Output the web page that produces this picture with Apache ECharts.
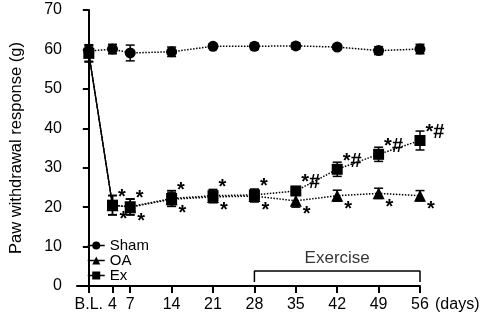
<!DOCTYPE html>
<html>
<head>
<meta charset="utf-8">
<script src="https://cdn.jsdelivr.net/npm/echarts@6/dist/echarts.min.js"></script>
<style>
  html, body { margin: 0; padding: 0; background: #fff; }
  #chart { width: 484px; height: 318px; }
</style>
</head>
<body>
<div id="chart"></div>
<script>
// days after induction (0 = baseline, shown as B.L.)
const days = [0, 4, 7, 14, 21, 28, 35, 42, 49, 56];

const sham = [59.6, 60.1, 59.1, 59.4, 60.8, 60.8, 60.9, 60.6, 59.7, 60.1];
const shamErr = [1.0, 1.2, 2.0, 1.2, 0.5, 0.8, 0.8, 0.6, 1.0, 1.2];

const oa = [59.0, 20.5, 20.0, 22.0, 22.6, 22.8, 21.6, 22.9, 23.5, 22.9];
const oaErr = [2.0, 2.4, 2.0, 1.8, 1.5, 1.5, 1.6, 1.4, 1.3, 1.3];

const ex = [59.0, 20.5, 20.1, 22.2, 22.9, 23.1, 24.1, 29.6, 33.4, 36.9];
const exErr = [2.2, 2.5, 2.0, 2.0, 1.6, 1.5, 1.1, 1.8, 1.8, 2.4];

// significance marks
const exMarks = ['', '*', '*', '*', '*', '*', '*#', '*#', '*#', '*#'];
const oaMarks = ['', '*', '*', '*', '*', '*', '*', '*', '*', '*'];

// exercise period bracket
const exerciseDays = [28, 56];
const bracketLevel = [1.0, 3.8];

const FONT = 'Liberation Sans';

function pairs(xs, ys) { return xs.map((x, i) => [x, ys[i]]); }
function triples(xs, ys, es) { return xs.map((x, i) => [x, ys[i], es[i]]); }

function errRender(params, api) {
  const x = api.value(0), y = api.value(1), e = api.value(2);
  const top = api.coord([x, y + e]);
  const bot = api.coord([x, y - e]);
  const w = 4.5;
  const st = { stroke: '#000', lineWidth: 1.5 };
  return {
    type: 'group',
    children: [
      { type: 'line', shape: { x1: top[0], y1: top[1], x2: bot[0], y2: bot[1] }, style: st },
      { type: 'line', shape: { x1: top[0] - w, y1: top[1], x2: top[0] + w, y2: top[1] }, style: st },
      { type: 'line', shape: { x1: bot[0] - w, y1: bot[1], x2: bot[0] + w, y2: bot[1] }, style: st }
    ]
  };
}

function errSeries(name, vals, errs) {
  return {
    name: name + ' err',
    type: 'custom',
    renderItem: errRender,
    data: triples(days, vals, errs),
    encode: { x: 0, y: 1 },
    z: 1,
    silent: true
  };
}

const markLabel = (marks, offset) => ({
  show: true,
  position: 'right',
  distance: 0,
  offset: offset,
  color: '#000',
  fontFamily: FONT,
  fontSize: 20,
  fontWeight: 'bold',
  formatter: p => marks[p.dataIndex]
});

const lineDotted = { color: '#000', width: 1.5, type: 'dotted' };

const chart = echarts.init(document.getElementById('chart'));
chart.setOption({
  animation: false,
  textStyle: { fontFamily: FONT, color: '#000' },
  grid: { left: 73, right: 64, top: 10, bottom: 32 },
  legend: {
    data: ['Sham', 'OA', 'Ex'],
    orient: 'vertical',
    left: 82,
    top: 233,
    itemWidth: 17,
    itemHeight: 10,
    itemGap: 0,
    textStyle: { fontFamily: FONT, fontSize: 15, color: '#000' },
    lineStyle: { type: 'solid', width: 1.5 }
  },
  xAxis: {
    type: 'value',
    min: -2,
    max: 56,
    name: '(days)',
    nameLocation: 'end',
    nameGap: 15,
    nameTextStyle: { fontFamily: FONT, fontSize: 16, color: '#000', align: 'left', verticalAlign: 'top', padding: [11, 0, 0, 0] },
    splitLine: { show: false },
    axisLine: { lineStyle: { color: '#000', width: 2 } },
    axisTick: { customValues: days, length: 7, lineStyle: { color: '#000', width: 2 } },
    axisLabel: {
      customValues: days,
      margin: 11,
      fontFamily: FONT,
      fontSize: 16,
      color: '#000',
      formatter: v => (v === 0 ? 'B.L.' : String(v))
    }
  },
  yAxis: {
    type: 'value',
    min: 0,
    max: 70,
    interval: 10,
    offset: 6,
    name: 'Paw withdrawal response (g)',
    nameLocation: 'middle',
    nameGap: 46,
    nameTextStyle: { fontFamily: FONT, fontSize: 16.5, color: '#000' },
    splitLine: { show: false },
    axisLine: { show: true, lineStyle: { color: '#000', width: 2 } },
    axisTick: { show: true, length: 6, lineStyle: { color: '#000', width: 2 } },
    axisLabel: { margin: 9, fontFamily: FONT, fontSize: 16, color: '#000' }
  },
  series: [
    errSeries('Sham', sham, shamErr),
    errSeries('OA', oa, oaErr),
    errSeries('Ex', ex, exErr),
    {
      name: 'Sham',
      type: 'line',
      data: pairs(days, sham),
      symbol: 'circle',
      symbolSize: 11,
      itemStyle: { color: '#000' },
      lineStyle: lineDotted,
      z: 2
    },
    {
      name: 'OA drop',
      type: 'line',
      data: pairs(days.slice(0, 2), oa.slice(0, 2)),
      symbol: 'none',
      lineStyle: { color: '#000', width: 1.2, type: 'solid' },
      z: 2
    },
    {
      name: 'OA',
      type: 'line',
      data: pairs(days, oa).slice(1),
      symbol: 'triangle',
      symbolSize: 12,
      itemStyle: { color: '#000' },
      lineStyle: lineDotted,
      label: markLabel(oaMarks.slice(1), [1, 14]),
      z: 2
    },
    {
      name: 'Ex drop',
      type: 'line',
      data: pairs(days.slice(0, 2), ex.slice(0, 2)),
      symbol: 'none',
      lineStyle: { color: '#000', width: 1.2, type: 'solid' },
      z: 2
    },
    {
      name: 'Ex',
      type: 'line',
      data: pairs(days, ex),
      symbol: 'rect',
      symbolSize: 11,
      itemStyle: { color: '#000' },
      lineStyle: lineDotted,
      label: markLabel(exMarks, [0, -8]),
      z: 3
    },
    {
      name: 'bracket',
      type: 'line',
      data: [
        [exerciseDays[0], bracketLevel[0]],
        [exerciseDays[0], bracketLevel[1]],
        [exerciseDays[1], bracketLevel[1]],
        [exerciseDays[1], bracketLevel[0]]
      ],
      symbol: 'none',
      lineStyle: { color: '#000', width: 1.5 },
      silent: true,
      z: 2
    },
    {
      name: 'Exercise',
      type: 'scatter',
      data: [[(exerciseDays[0] + exerciseDays[1]) / 2, bracketLevel[1]]],
      symbolSize: 0,
      silent: true,
      label: {
        show: true,
        position: 'top',
        distance: 4,
        formatter: 'Exercise',
        fontFamily: FONT,
        fontSize: 17,
        color: '#000'
      }
    }
  ]
});
</script>
</body>
</html>
